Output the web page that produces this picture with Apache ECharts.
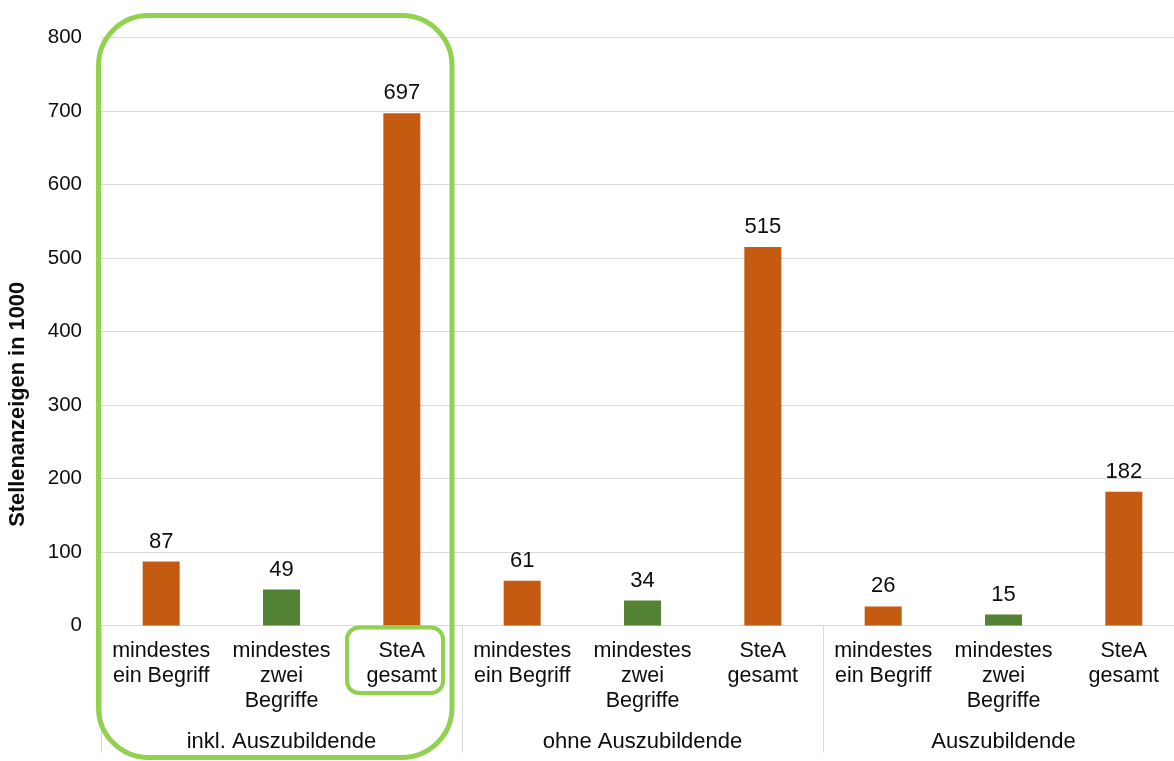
<!DOCTYPE html>
<html>
<head>
<meta charset="utf-8">
<script src="https://cdn.jsdelivr.net/npm/echarts@6/dist/echarts.min.js"></script>
<style>html,body{margin:0;padding:0;background:#fff}#c{width:1174px;height:761px}</style>
</head>
<body>
<div id="c"></div>
<script>
const groups = ['inkl. Auszubildende', 'ohne Auszubildende', 'Auszubildende'];
const subCategories = ['mindestes\nein Begriff', 'mindestes\nzwei\nBegriffe', 'SteA\ngesamt'];
const valuesInkl = [87, 49, 697];
const valuesOhne = [61, 34, 515];
const valuesAzubi = [26, 15, 182];
const yTicks = [0, 100, 200, 300, 400, 500, 600, 700, 800];
const yTitle = 'Stellenanzeigen in 1000';

const ORANGE = '#c55a11', GREEN = '#548235', FRAME = '#92d050';
const subColors = [ORANGE, GREEN, ORANGE];
const FONT = '"Liberation Sans", Arial, sans-serif';

const allValues = [valuesInkl, valuesOhne, valuesAzubi];
const categories = [];
const barData = [];
allValues.forEach(function (vals) {
  vals.forEach(function (v, i) {
    categories.push(subCategories[i]);
    barData.push({ value: v, itemStyle: { color: subColors[i] } });
  });
});

const chart = echarts.init(document.getElementById('c'), null, { renderer: 'canvas' });
chart.setOption({
  animation: false,
  backgroundColor: '#fff',
  textStyle: { fontFamily: FONT },
  grid: { left: 101, top: 37.5, width: 1083, height: 588, outerBoundsMode: 'none', containLabel: false },
  xAxis: [
    {
      type: 'category', data: categories, position: 'bottom',
      axisLine: { show: true, lineStyle: { color: '#d9d9d9', width: 1 } },
      axisTick: { show: false },
      axisLabel: { interval: 0, fontSize: 21.5, lineHeight: 25, margin: 13.5, color: '#0d0d0d', fontFamily: FONT }
    },
    {
      type: 'category', data: groups, position: 'bottom',
      axisLine: { show: false },
      axisTick: { show: true, length: 127, lineStyle: { color: '#d9d9d9', width: 1 } },
      axisLabel: { interval: 0, fontSize: 22, lineHeight: 24, margin: 104, color: '#0d0d0d', fontFamily: FONT }
    }
  ],
  yAxis: {
    type: 'value', min: yTicks[0], max: yTicks[yTicks.length - 1], interval: 100,
    axisLine: { show: false }, axisTick: { show: false },
    splitLine: { lineStyle: { color: '#d9d9d9', width: 1 } },
    axisLabel: { fontSize: 20.5, margin: 19, color: '#0d0d0d', fontFamily: FONT }
  },
  series: [{
    type: 'bar', xAxisIndex: 0, data: barData, barWidth: 37,
    label: { show: true, position: 'top', distance: 9, fontSize: 22, color: '#0d0d0d', fontFamily: FONT }
  }],
  graphic: [
    {
      type: 'text', left: 7, top: 282, rotation: Math.PI / 2,
      style: { text: yTitle, font: 'bold 21.8px ' + FONT, fill: '#0d0d0d' }
    },
    {
      type: 'rect', shape: { x: 98.5, y: 15.5, width: 353.5, height: 742, r: 50 },
      style: { fill: 'none', stroke: FRAME, lineWidth: 5 }, z: 100
    },
    {
      type: 'rect', shape: { x: 347, y: 627.5, width: 96, height: 65.5, r: 12 },
      style: { fill: 'none', stroke: FRAME, lineWidth: 4 }, z: 100
    }
  ]
});
</script>
</body>
</html>
